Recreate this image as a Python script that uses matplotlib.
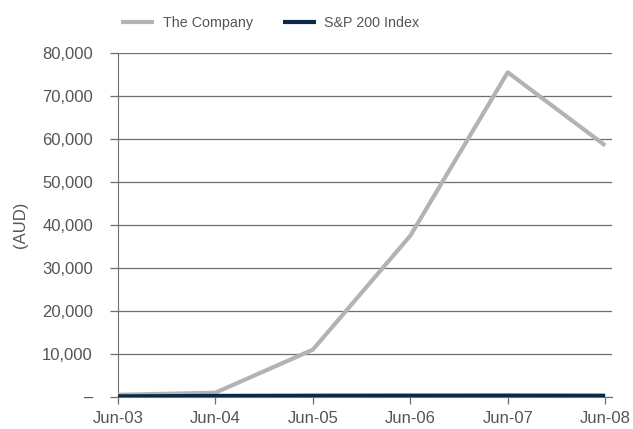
import matplotlib.pyplot as plt
from matplotlib.ticker import FuncFormatter

# data
dates = ['Jun-03', 'Jun-04', 'Jun-05', 'Jun-06', 'Jun-07', 'Jun-08']
company = [500, 1000, 11000, 37500, 75500, 58500]
sp200 = [150, 250, 300, 320, 330, 300]

plt.rcParams['font.family'] = ['Liberation Sans', 'DejaVu Sans']
txt = '#555555'
grid = '#6e6e6e'

fig = plt.figure(figsize=(6.33, 4.29), dpi=100)
ax = fig.add_axes([0.1864, 0.0746, 0.9668 - 0.1864, 0.8765 - 0.0746])

x = list(range(len(dates)))
ax.plot(x, company, color='#b3b3b3', lw=3, label='The Company', solid_capstyle='butt', zorder=3)
ax.plot(x, sp200, color='#0c2a48', lw=3, label='S&P 200 Index', solid_capstyle='butt', zorder=4)

ax.set_xlim(0, 5.07)
ax.set_ylim(0, 80000)
ax.set_xticks(x)
ax.set_xticklabels(dates)
ax.set_yticks(range(0, 80001, 10000))
ax.yaxis.set_major_formatter(FuncFormatter(lambda v, p: '–' if v == 0 else f'{int(v):,}'))

ax.grid(axis='y', color=grid, lw=0.9)
ax.set_axisbelow(True)
for s in ['top', 'right']:
    ax.spines[s].set_visible(False)
ax.spines['left'].set_color(grid)
ax.spines['bottom'].set_color(grid)
ax.tick_params(axis='both', colors=grid, labelcolor=txt, labelsize=12, width=0.9)
ax.tick_params(axis='x', length=5, pad=5)
ax.tick_params(axis='y', length=6, pad=12)

ax.set_ylabel('(AUD)', color=txt, fontsize=12, labelpad=10)

leg = ax.legend(loc='center', bbox_to_anchor=(0.308, 1.087), ncol=2, frameon=False,
                fontsize=10.3, labelcolor=txt, handlelength=2.3, handletextpad=0.58,
                columnspacing=2.1)

fig.savefig('out.png', dpi=100)
